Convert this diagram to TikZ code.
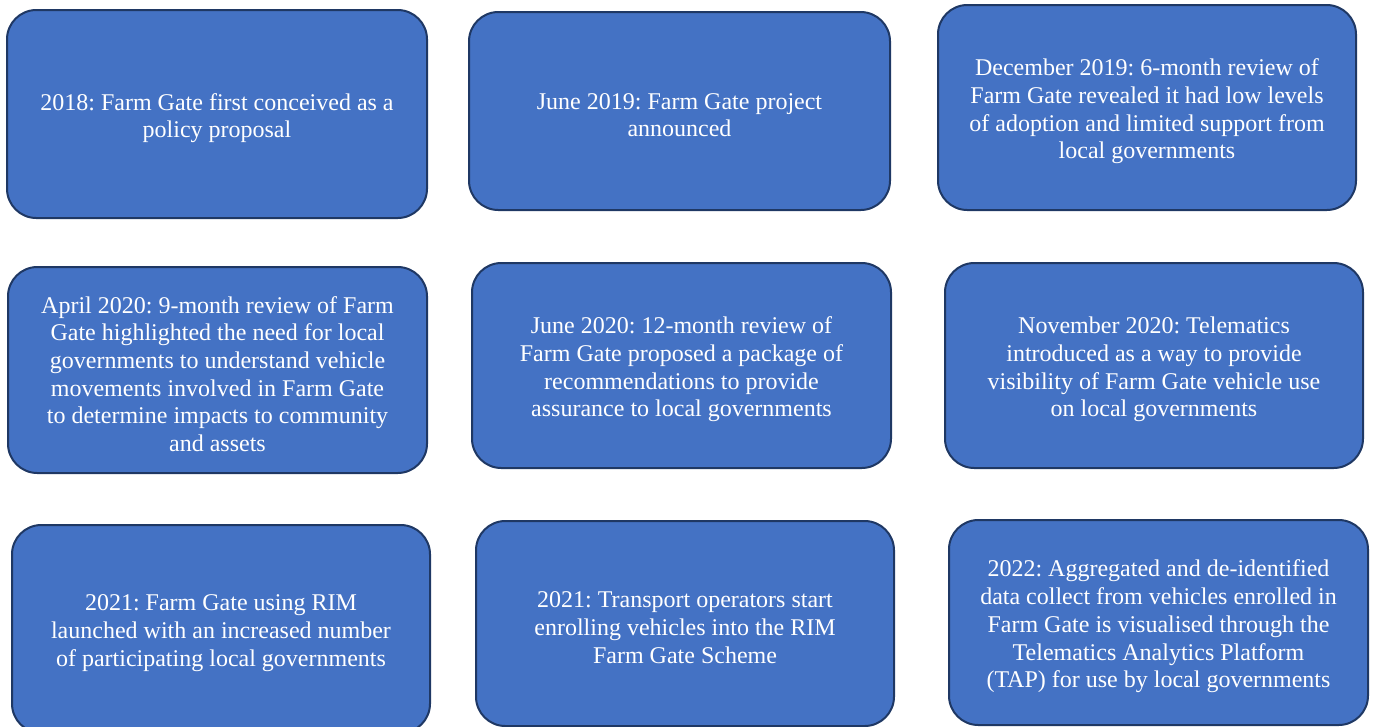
\documentclass[tikz,border=0pt]{standalone}
\usepackage{fontspec}
\setmainfont{LiberationSerif}[Extension=.ttf, UprightFont=*-Regular, BoldFont=*-Bold, ItalicFont=*-Italic, BoldItalicFont=*-BoldItalic]
\frenchspacing
\definecolor{boxfill}{HTML}{4472C4}
\definecolor{boxline}{HTML}{1F3864}
\tikzset{
  tbox/.style={draw=boxline, line width=1.5pt, fill=boxfill, rounded corners=22pt,
    rectangle, inner sep=0pt},
  txt/.style={inner sep=0pt, align=center, text=white,
    font=\fontsize{18}{20.8}\selectfont}
}
\newcommand{\tl}[2]{\node[txt] (t#1) at ([yshift=-3pt]b#1.center) {#2};}
\begin{document}
\begin{tikzpicture}[x=0.75pt,y=-0.75pt]
\useasboundingbox (0,0) rectangle (1375,726);
\node[tbox, minimum width=315pt, minimum height=156pt] (b1) at (217,114) {};
\node[tbox, minimum width=315.75pt, minimum height=148.5pt] (b2) at (679.5,111) {};
\node[tbox, minimum width=313.5pt, minimum height=153.75pt] (b3) at (1147,107.5) {};
\node[tbox, minimum width=314.25pt, minimum height=154.5pt] (b4) at (217.5,370) {};
\node[tbox, minimum width=314.25pt, minimum height=153.75pt] (b5) at (681.5,365.5) {};
\node[tbox, minimum width=313.5pt, minimum height=153.75pt] (b6) at (1154,365.5) {};
\node[tbox, minimum width=313.5pt, minimum height=156pt] (b7) at (221,629) {};
\node[tbox, minimum width=313.5pt, minimum height=153.75pt] (b8) at (685,623.5) {};
\node[tbox, minimum width=314.25pt, minimum height=153.75pt] (b9) at (1158.5,622.5) {};
\tl{1}{2018: Farm Gate first conceived as a\\policy proposal}
\tl{2}{June 2019: Farm Gate project\\announced}
\tl{3}{December 2019: 6-month review of\\Farm Gate revealed it had low levels\\of adoption and limited support from\\local governments}
\tl{4}{April 2020: 9-month review of Farm\\Gate highlighted the need for local\\governments to understand vehicle\\movements involved in Farm Gate\\to determine impacts to community\\and assets}
\tl{5}{June 2020: 12-month review of\\Farm Gate proposed a package of\\recommendations to provide\\assurance to local governments}
\tl{6}{November 2020: Telematics\\introduced as a way to provide\\visibility of Farm Gate vehicle use\\on local governments}
\tl{7}{2021: Farm Gate using RIM\\launched with an increased number\\of participating local governments}
\tl{8}{2021: Transport operators start\\enrolling vehicles into the RIM\\Farm Gate Scheme}
\tl{9}{2022: Aggregated and de-identified\\data collect from vehicles enrolled in\\Farm Gate is visualised through the\\Telematics Analytics Platform\\(TAP) for use by local governments}
\end{tikzpicture}
\end{document}
